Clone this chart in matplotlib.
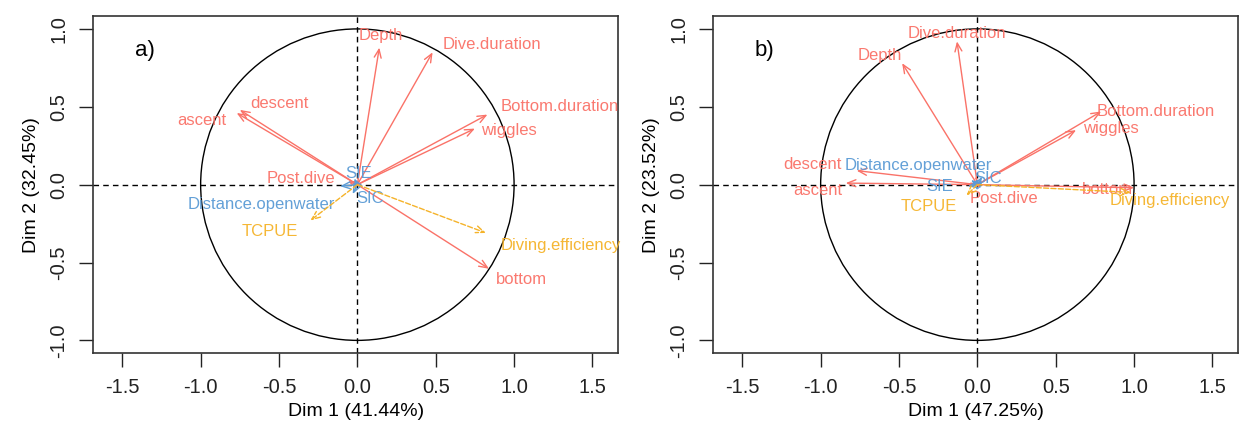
import matplotlib
matplotlib.use("Agg")
import matplotlib.pyplot as plt
import numpy as np
from matplotlib.patches import Circle

plt.rcParams['font.family'] = ['Liberation Sans', 'DejaVu Sans']

RED = '#FA7268'
BLUE = '#5B9BD5'
ORANGE = '#F5B32A'

# ---- data: panel a ----
a_names = ['Depth', 'Dive.duration', 'Bottom.duration', 'wiggles', 'descent', 'ascent',
           'Post.dive', 'bottom', 'SIE', 'SIC', 'Distance.openwater', 'TCPUE', 'Diving.efficiency']
a_group = ['act', 'act', 'act', 'act', 'act', 'act', 'act', 'act',
           'env', 'env', 'env', 'fish', 'fish']
a_x = [0.14, 0.48, 0.83, 0.75, -0.75, -0.77, -0.06, 0.84, -0.02, -0.03, -0.11, -0.30, 0.82]
a_y = [0.88, 0.85, 0.45, 0.36, 0.48, 0.46, 0.02, -0.54, 0.04, -0.06, -0.01, -0.23, -0.31]
a_lx = [0.15, 0.86, 1.29, 0.97, -0.50, -0.99, -0.36, 1.05, 0.01, 0.08, -0.61, -0.56, 1.30]
a_ly = [0.955, 0.90, 0.50, 0.35, 0.52, 0.41, 0.04, -0.61, 0.07, -0.09, -0.13, -0.30, -0.39]

# ---- data: panel b ----
b_names = a_names
b_group = a_group
b_x = [-0.48, -0.13, 0.79, 0.63, -0.77, -0.84, 0.02, 1.00, -0.06, 0.03, -0.04, -0.07, 0.98]
b_y = [0.78, 0.92, 0.47, 0.35, 0.09, 0.01, -0.02, -0.02, -0.01, 0.05, 0.03, -0.07, -0.05]
b_lx = [-0.62, -0.13, 1.14, 0.85, -1.05, -1.02, 0.17, 0.83, -0.24, 0.07, -0.38, -0.31, 1.23]
b_ly = [0.83, 0.97, 0.47, 0.36, 0.13, -0.04, -0.09, -0.03, -0.01, 0.04, 0.12, -0.14, -0.10]

ticks = [-1.5, -1.0, -0.5, 0.0, 0.5, 1.0, 1.5]
yticks = [-1.0, -0.5, 0.0, 0.5, 1.0]

panels = [
    dict(tag='a)', names=a_names, group=a_group, x=a_x, y=a_y, lx=a_lx, ly=a_ly,
         xlabel='Dim 1 (41.44%)', ylabel='Dim 2 (32.45%)', left=93.3),
    dict(tag='b)', names=b_names, group=b_group, x=b_x, y=b_y, lx=b_lx, ly=b_ly,
         xlabel='Dim 1 (47.25%)', ylabel='Dim 2 (23.52%)', left=713.3),
]

W, H = 1239, 438
fig = plt.figure(figsize=(W / 100, H / 100), dpi=100)

colors = {'act': RED, 'env': BLUE, 'fish': ORANGE}

for p in panels:
    ax = fig.add_axes([p['left'] / W, 1 - 353.3 / H, 525 / W, 337.3 / H])
    ax.set_xlim(-1.685, 1.665)
    ax.set_ylim(-1.083, 1.083)
    ax.add_patch(Circle((0, 0), 1, fill=False, ec='black', lw=1.0))
    ax.axhline(0, color='black', ls=(0, (4, 3)), lw=1.0)
    ax.axvline(0, color='black', ls=(0, (4, 3)), lw=1.0)
    for n, g, x, y, lx, ly in zip(p['names'], p['group'], p['x'], p['y'], p['lx'], p['ly']):
        c = colors[g]
        ls = '--' if g == 'fish' else '-'
        ax.annotate('', xy=(x, y), xytext=(0, 0),
                    arrowprops=dict(arrowstyle='->,head_length=0.6,head_width=0.25',
                                    color=c, lw=1.0, ls=ls, shrinkA=0, shrinkB=0))
        ax.text(lx, ly, n, color=c, fontsize=12, ha='center', va='center', alpha=0.95)
    ax.text(-1.42, 0.86, p['tag'], fontsize=16, ha='left', va='center', color='black')
    ax.set_xticks(ticks)
    ax.set_xticklabels([f'{t:.1f}' for t in ticks])
    ax.set_yticks(yticks)
    ax.set_yticklabels([f'{t:.1f}' for t in yticks], rotation=90, va='center')
    ax.tick_params(axis='both', direction='out', length=10, width=1, labelsize=14.5,
                   colors='#222222', pad=8)
    for s in ax.spines.values():
        s.set_color('#333333')
        s.set_linewidth(1.2)
    ax.set_xlabel(p['xlabel'], fontsize=14, labelpad=4)
    ax.set_ylabel(p['ylabel'], fontsize=14, labelpad=7)

fig.savefig('out.png', dpi=100)
